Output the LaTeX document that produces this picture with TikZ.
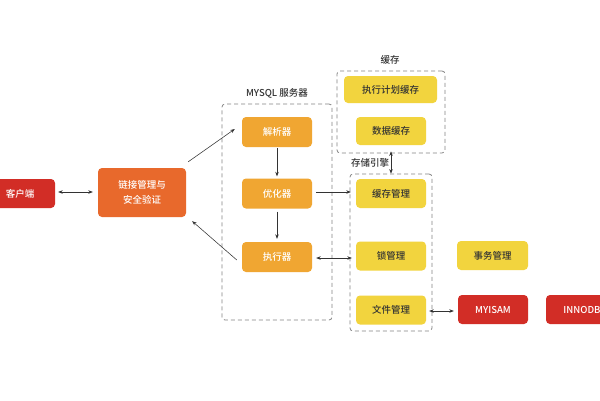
\documentclass[tikz,border=0pt]{standalone}
\usepackage{fontspec}
\setmainfont{Noto Sans CJK SC Medium}
\usetikzlibrary{arrows.meta,calc}
\definecolor{cred}{HTML}{D22D26}
\definecolor{corange}{HTML}{E8692C}
\definecolor{camber}{HTML}{F0A632}
\definecolor{cyellow}{HTML}{F2D43E}
\definecolor{ctext}{HTML}{333333}
\definecolor{cdash}{HTML}{858585}
\tikzset{
  basebox/.style={rounded corners=4pt, inner sep=0pt, align=center,
    font=\fontsize{9.5}{15}\selectfont},
  redbox/.style={basebox, fill=cred, text=white},
  orangebox/.style={basebox, fill=corange, text=white},
  amberbox/.style={basebox, fill=camber, text=white},
  yellowbox/.style={basebox, fill=cyellow, text=ctext},
  dashbox/.style={draw=cdash, dash pattern=on 4pt off 3pt, line width=0.8pt,
    rounded corners=3pt, inner sep=0pt},
  lbl/.style={text=ctext, font=\fontsize{9.5}{12}\selectfont, inner sep=0pt},
  conn/.style={draw=ctext, line width=0.55pt, -{Stealth[length=4.5pt,width=3.5pt]}},
  dconn/.style={draw=ctext, line width=0.55pt, {Stealth[length=4.5pt,width=3.5pt]}-{Stealth[length=4.5pt,width=3.5pt]}}
}
\begin{document}
\begin{tikzpicture}[x=1pt,y=-1pt]
\clip (0,0) rectangle (600,400);
\fill[white] (0,0) rectangle (600,400);
% dashed groups
\node[dashbox, minimum width=110pt, minimum height=216pt] (mysqlbox) at (277,212) {};
\node[lbl] (mysqllbl) at (277,93) {MYSQL 服务器};
\node[dashbox, minimum width=108pt, minimum height=82pt] (cachebox) at (391,112) {};
\node[lbl] (cachelbl) at (390,60) {缓存};
\node[dashbox, minimum width=82pt, minimum height=157pt] (storebox) at (391,252.5) {};
\node[lbl] (storelbl) at (370,163) {存储引擎};
% boxes
\node[redbox, minimum width=70pt, minimum height=29pt] (client) at (20,193.5) {客户端};
\node[orangebox, minimum width=88pt, minimum height=49pt] (link) at (142,192.5) {链接管理与\\安全验证};
\node[amberbox, minimum width=70pt, minimum height=30pt] (parse) at (277,132) {解析器};
\node[amberbox, minimum width=70pt, minimum height=30pt] (opt) at (277,193.5) {优化器};
\node[amberbox, minimum width=70pt, minimum height=30pt] (exec) at (277,257) {执行器};
\node[yellowbox, minimum width=93pt, minimum height=27pt] (plan) at (390.5,89.5) {执行计划缓存};
\node[yellowbox, minimum width=70pt, minimum height=28pt] (data) at (391,131) {数据缓存};
\node[yellowbox, minimum width=70pt, minimum height=29pt] (cmgr) at (391,193.5) {缓存管理};
\node[yellowbox, minimum width=70pt, minimum height=29pt] (lock) at (391,256) {锁管理};
\node[yellowbox, minimum width=70pt, minimum height=29pt] (file) at (391,310) {文件管理};
\node[yellowbox, minimum width=71pt, minimum height=29pt] (trans) at (492.5,255.5) {事务管理};
\node[redbox, minimum width=70pt, minimum height=29pt] (myisam) at (493,309.5) {MYISAM};
\node[redbox, minimum width=72pt, minimum height=29pt] (innodb) at (582,309.5) {INNODB};
% connectors
\draw[dconn, shorten <=3pt, shorten >=5pt] (client.east |- 0,192) -- (link.west |- 0,192);
\draw[conn] ($(link.north east)+(2,-6)$) -- ($(parse.west)+(-7,-3)$);
\draw[conn] ($(exec.west)+(-5,3)$) -- ($(link.south east)+(6,4)$);
\draw[conn, shorten <=1pt, shorten >=2pt] (parse.south) -- (opt.north);
\draw[conn, shorten <=3pt, shorten >=3pt] (opt.south) -- (exec.north);
\draw[conn, shorten <=4pt, shorten >=5pt] (opt.east |- 0,192) -- (cmgr.west |- 0,192);
\draw[dconn, shorten <=4pt, shorten >=4pt] (exec.east |- 0,258) -- (lock.west |- 0,258);
\draw[dconn, shorten <=-2pt] (cachebox.south) -- (storebox.north);
\draw[dconn, shorten <=3pt, shorten >=4pt] (file.east |- 0,311) -- (myisam.west |- 0,311);
\end{tikzpicture}
\end{document}
